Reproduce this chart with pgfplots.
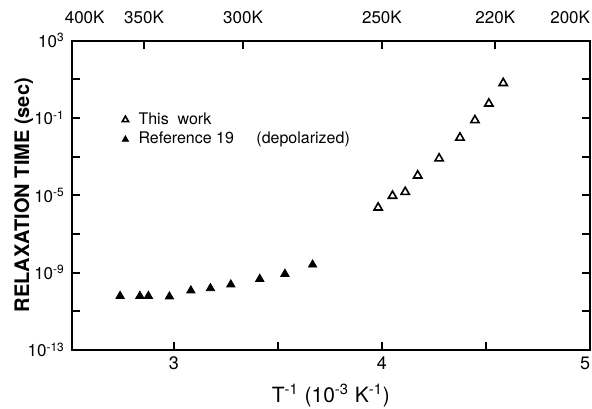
\documentclass[border=0pt]{standalone}
\usepackage{fontspec}
\setmainfont{TeX Gyre Heros}
\usepackage{pgfplots}
\usepackage{pgfplotstable}
\pgfplotsset{compat=1.18}
\pgfplotstableread{
x y
3.982 -5.64
4.051 -5.03
4.112 -4.83
4.172 -3.98
4.275 -3.10
4.375 -2.02
4.447 -1.12
4.514 -0.26
4.583 0.80
}\thiswork
\pgfplotstableread{
x y
2.742 -10.21
2.837 -10.21
2.878 -10.21
2.979 -10.24
3.082 -9.93
3.176 -9.81
3.274 -9.62
3.413 -9.33
3.534 -9.07
3.667 -8.59
}\refnineteen
\newcommand{\sps}[1]{\textsuperscript{#1}}
\begin{document}
\begin{tikzpicture}
\begin{axis}[
  scale only axis, width=259pt, height=154.6pt,
  xmin=2.51, xmax=5, ymode=log, ymin=1e-13, ymax=1e3,
  xtick={3,3.5,4,4.5,5}, xticklabels={3,,4,,\llap{5}},
  ytick={1e-13,1e-11,1e-9,1e-7,1e-5,1e-3,1e-1,1e1,1e3},
  yticklabels={10\sps{-13},,10\sps{-9},,10\sps{-5},,10\sps{-1},,10\sps{3}},
  yminorticks=false,
  xtick pos=lower, ytick pos=both, tick align=inside,
  major tick length=4pt,
  every tick/.style={line width=0.9pt, black},
  axis line style={line width=0.9pt},
  xticklabel style={font=\fontsize{9}{10}\selectfont},
  yticklabel style={font=\fontsize{8.5}{9}\selectfont},
  xlabel={T\sps{-1} (10\sps{-3} K\sps{-1})},
  ylabel={RELAXATION TIME (sec)},
  xlabel style={font=\fontsize{10.5}{12}\selectfont, at={(axis description cs:0.5,0)}, anchor=center, yshift=-23pt},
  ylabel style={font=\bfseries\fontsize{10}{12}\selectfont, at={(axis description cs:-0.093,0.5)}, anchor=center},
  legend style={draw=none, fill=none, at={(axis description cs:0.085,0.795)}, anchor=north west,
    font=\fontsize{8}{9}\selectfont, row sep=-1.5pt,
    /tikz/every odd column/.append style={column sep=3pt}},
  legend cell align=left,
  legend image code/.code={\draw[#1, mark size=1.8pt] plot coordinates {(0.2em,0pt)};},
]
\addplot[only marks, mark=triangle, mark size=2.4pt, mark options={line width=0.8pt, black}] table[x=x, y expr=10^(\thisrow{y})] {\thiswork};
\addlegendentry{This\ \ work}
\addplot[only marks, mark=triangle*, mark size=2.4pt, mark options={black, fill=black}] table[x=x, y expr=10^(\thisrow{y})] {\refnineteen};
\addlegendentry{Reference 19\hspace{1.4em}(depolarized)}
\end{axis}
\begin{axis}[
  scale only axis, width=259pt, height=154.6pt,
  xmin=2.51, xmax=5, ymin=0, ymax=1,
  axis x line*=top, axis y line=none,
  tick align=inside, major tick length=4pt,
  every tick/.style={line width=0.9pt, black},
  axis line style={line width=0.9pt},
  xtick={2.857,3.333,4.0,4.545},
  xticklabels={350K,300K,250K,220K},
  extra x ticks={2.51,5},
  extra x tick labels={\rlap{\kern-3.5pt 400K},\llap{200K}},
  extra x tick style={major tick length=0pt},
  xticklabel style={font=\fontsize{8.5}{10}\selectfont, yshift=5pt},
]
\end{axis}
\pgfresetboundingbox
\useasboundingbox ([shift={(-35.9pt,-29.5pt)}]current axis.south west) rectangle ([shift={(1pt,20.3pt)}]current axis.north east);
\end{tikzpicture}
\end{document}
